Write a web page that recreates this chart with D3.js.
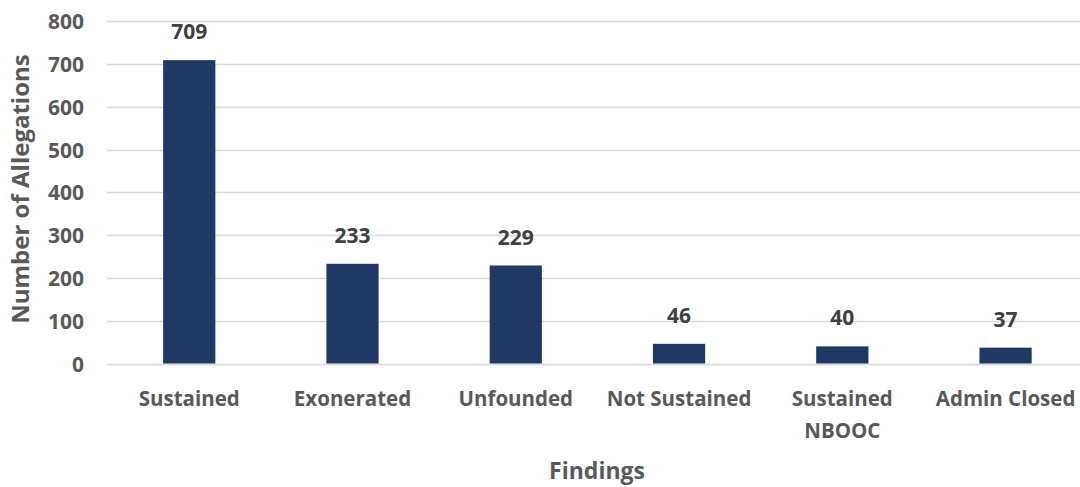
<!DOCTYPE html>
<html><head><meta charset="utf-8">
<script src="https://cdn.jsdelivr.net/npm/d3@7"></script>
<style>body{margin:0;background:#fff}svg{display:block}</style>
</head><body>
<svg id="c" width="1080" height="487"></svg>
<script>
const categories = ["Sustained", "Exonerated", "Unfounded", "Not Sustained", "Sustained\nNBOOC", "Admin Closed"];
const values = [709, 233, 229, 46, 40, 37];
const yTicks = [0, 100, 200, 300, 400, 500, 600, 700, 800];
const yTitle = "Number of Allegations";
const xTitle = "Findings";

const svg = d3.select("#c");
const font = "'Open Sans', sans-serif";
const x = d3.scaleBand().domain(categories).range([107.6, 1087.2]).paddingInner(0.68).paddingOuter(0.34);
const y = d3.scaleLinear().domain([0, 800]).range([363.5, 21.2]);

// gridlines
svg.append("g").selectAll("line").data(yTicks).join("line")
  .attr("x1", 107).attr("x2", 1080)
  .attr("y1", d => Math.round(y(d)) + 0.5).attr("y2", d => Math.round(y(d)) + 0.5)
  .attr("stroke", "#d9d9d9").attr("stroke-width", 1.5);

// y axis labels
const yAxis = d3.axisLeft(y).tickValues(yTicks).tickSize(0).tickPadding(0);
const gy = svg.append("g").attr("transform", "translate(84,0)").call(yAxis);
gy.select(".domain").remove();
gy.selectAll("text").attr("font-family", font).attr("font-weight", 700).attr("font-size", 21)
  .attr("fill", "#595959").attr("dy", "0.36em");

// bars
svg.append("g").selectAll("rect").data(values).join("rect")
  .attr("x", (d, i) => x(categories[i])).attr("width", x.bandwidth())
  .attr("y", d => y(d)).attr("height", d => y(0) - y(d))
  .attr("fill", "#203864");

// value labels
svg.append("g").selectAll("text").data(values).join("text")
  .attr("x", (d, i) => x(categories[i]) + x.bandwidth() / 2)
  .attr("y", d => y(d) - 21)
  .attr("text-anchor", "middle").attr("font-family", font).attr("font-weight", 700)
  .attr("font-size", 21).attr("fill", "#404040").text(d => d);

// x axis labels
const xAxis = d3.axisBottom(x).tickSize(0).tickPadding(0).tickFormat("");
const gx = svg.append("g").call(xAxis);
gx.select(".domain").remove();
gx.selectAll(".tick").each(function(d) {
  const t = d3.select(this).append("text").attr("text-anchor", "middle")
    .attr("font-family", font).attr("font-weight", 700).attr("font-size", 20.5).attr("fill", "#595959");
  d.split("\n").forEach((line, j) => {
    t.append("tspan").attr("x", 0).attr("y", 406 + j * 32).text(line);
  });
});

svg.append("text").attr("x", 597).attr("y", 479).attr("text-anchor", "middle")
  .attr("font-family", font).attr("font-weight", 700).attr("font-size", 23).attr("fill", "#595959").text(xTitle);
svg.append("text").attr("transform", "translate(29,189) rotate(-90)").attr("text-anchor", "middle")
  .attr("font-family", font).attr("font-weight", 700).attr("font-size", 24).attr("fill", "#595959").text(yTitle);
</script>
</body></html>
